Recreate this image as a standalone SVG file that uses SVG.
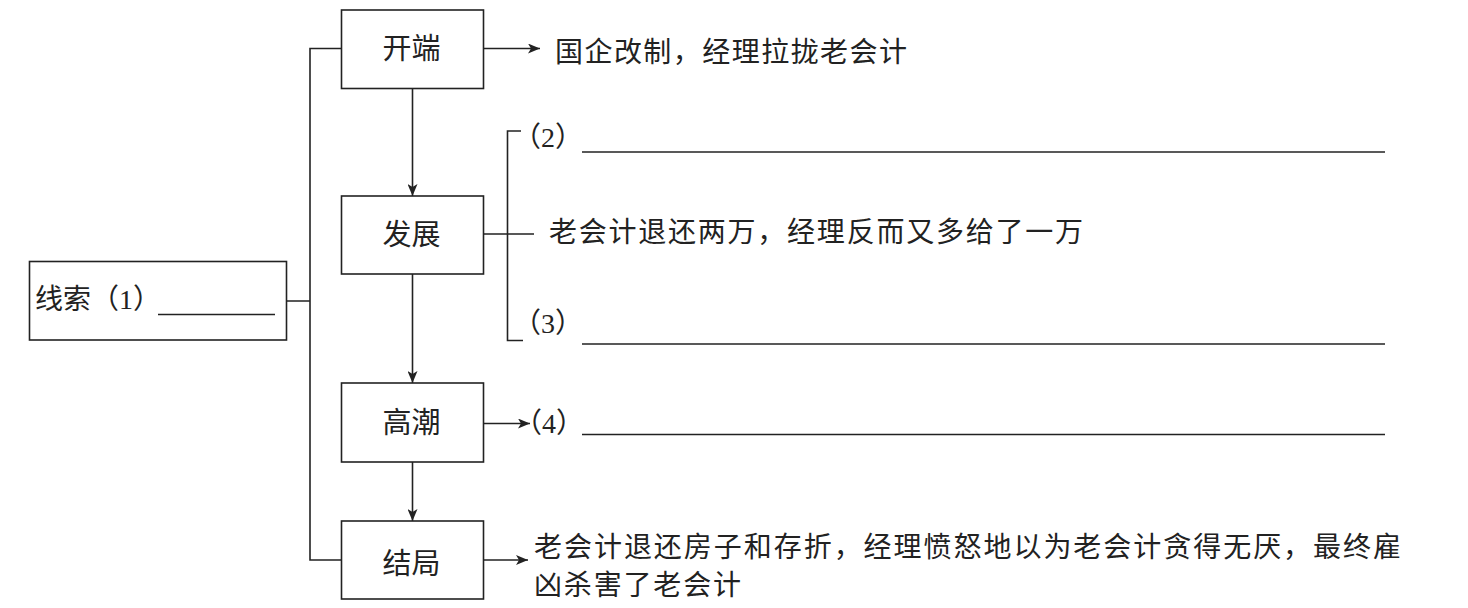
<svg xmlns="http://www.w3.org/2000/svg" width="1468" height="608" viewBox="0 0 1468 608">
<defs>
<style>
.box{fill:#fff;stroke:#222;stroke-width:1.6}
.ln{fill:none;stroke:#222;stroke-width:1.6}
.bl{fill:none;stroke:#222;stroke-width:1.5}
.lbl{font-family:"Noto Sans CJK SC","Noto Sans",sans-serif;font-size:29px;fill:#222;text-anchor:middle}
.tx{font-family:"Noto Sans CJK SC","Noto Sans",sans-serif;font-size:28px;fill:#222}
.num{font-family:"Liberation Serif","Noto Sans CJK SC",serif;font-size:28px}
</style>
<marker id="ah" viewBox="0 0 12 10" refX="12" refY="5" markerWidth="12" markerHeight="10" markerUnits="userSpaceOnUse" orient="auto">
<path d="M0,0 L12,5 L0,10 L3,5 Z" fill="#222"/>
</marker>
</defs>
<rect width="1468" height="608" fill="#fff"/>

<g id="connectors">
<path class="ln" d="M286.5,301 H310 M341.5,48.5 H310 V560 H341.5"/>
<line class="ln" x1="412.5" y1="88.5" x2="412.5" y2="196" marker-end="url(#ah)"/>
<line class="ln" x1="412.5" y1="274" x2="412.5" y2="383" marker-end="url(#ah)"/>
<line class="ln" x1="412.5" y1="462" x2="412.5" y2="521" marker-end="url(#ah)"/>
<line class="ln" x1="483.5" y1="48.5" x2="540" y2="48.5" marker-end="url(#ah)"/>
<line class="ln" x1="483.5" y1="423.5" x2="530" y2="423.5" marker-end="url(#ah)"/>
<line class="ln" x1="483.5" y1="560" x2="528" y2="560" marker-end="url(#ah)"/>
<path class="ln" d="M483.5,234 H534 M521,131 H507.5 V340.5 H523"/>
</g>

<g id="node-xiansuo">
<rect class="box" x="29.5" y="261.5" width="257" height="78.5"/>
<text class="tx" x="35" y="309">线索（<tspan class="num">1</tspan>）</text>
<line class="bl" x1="158" y1="314.5" x2="275" y2="314.5"/>
</g>

<g id="node-kaiduan">
<rect class="box" x="341.5" y="10" width="142" height="78.5"/>
<text class="lbl" x="411.5" y="59">开端</text>
</g>
<text id="t-kaiduan" class="tx" x="555" y="62" textLength="352" lengthAdjust="spacing">国企改制，经理拉拢老会计</text>

<g id="node-fazhan">
<rect class="box" x="341.5" y="196" width="142" height="78"/>
<text class="lbl" x="411.5" y="245">发展</text>
</g>
<g id="fazhan-items">
<text class="tx" x="513" y="147">（<tspan class="num">2</tspan>）</text>
<line class="bl" x1="582" y1="152" x2="1385" y2="152"/>
<text class="tx" x="549" y="242" textLength="534" lengthAdjust="spacing">老会计退还两万，经理反而又多给了一万</text>
<text class="tx" x="513" y="333">（<tspan class="num">3</tspan>）</text>
<line class="bl" x1="582" y1="344" x2="1385" y2="344"/>
</g>

<g id="node-gaochao">
<rect class="box" x="341.5" y="383" width="142" height="79"/>
<text class="lbl" x="411.5" y="433">高潮</text>
</g>
<g id="gaochao-item">
<text class="tx" x="514" y="433">（<tspan class="num">4</tspan>）</text>
<line class="bl" x1="582" y1="434.5" x2="1385" y2="434.5"/>
</g>

<g id="node-jieju">
<rect class="box" x="341.5" y="521" width="142" height="78"/>
<text class="lbl" x="411.5" y="574">结局</text>
</g>
<g id="jieju-text">
<text class="tx" x="534" y="557" textLength="867" lengthAdjust="spacing">老会计退还房子和存折，经理愤怒地以为老会计贪得无厌，最终雇</text>
<text class="tx" x="534" y="595" textLength="207" lengthAdjust="spacing">凶杀害了老会计</text>
</g>
</svg>
